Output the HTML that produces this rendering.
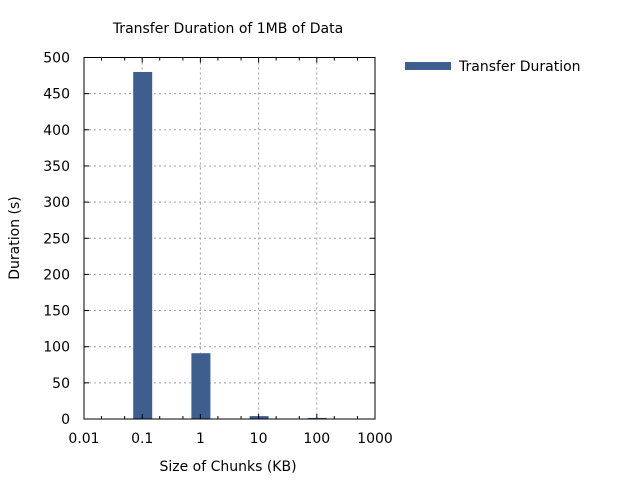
<!DOCTYPE html>
<html><head><meta charset="utf-8"><style>
body{margin:0;background:#fff}
svg{display:block;font-family:"DejaVu Sans","Liberation Sans",sans-serif}
</style></head><body>
<svg id="c" width="640" height="480"></svg>
<script>
const categories=[0.1,1,10,100];
const durations=[480,91,4,1.5];
const xTicks=[0.01,0.1,1,10,100,1000];
const xTickLabels=["0.01","0.1","1","10","100","1000"];
const yTicks=[0,50,100,150,200,250,300,350,400,450,500];
const NS="http://www.w3.org/2000/svg";
const svg=document.getElementById('c');
const L=84,R=375,T=57.5,B=419;
function xs(v){return L+(Math.log10(v)+2)/5*(R-L);}
function ys(v){return B-v/500*(B-T);}
function el(t,a,p){const e=document.createElementNS(NS,t);for(const k in a)e.setAttribute(k,a[k]);(p||svg).appendChild(e);return e;}
function txt(s,a){const e=el('text',a);e.textContent=s;return e;}
const grid=el('g',{});


yTicks.forEach(v=>{if(v>0&&v<500)el('line',{x1:L,x2:R,y1:ys(v),y2:ys(v),stroke:'#a0a0a0','stroke-dasharray':'2,3'},grid);});
xTicks.forEach(v=>{if(v>0.01&&v<1000)el('line',{x1:xs(v),x2:xs(v),y1:T,y2:B,stroke:'#a0a0a0','stroke-dasharray':'2,3'},grid);});
categories.forEach((c,i)=>{
  const r=el('rect',{x:xs(c)-9,y:ys(durations[i]),width:19,height:B-ys(durations[i]),fill:'#3e5e8e'});
  
  
});
el('rect',{x:L,y:T,width:R-L,height:B-T,fill:'none',stroke:'#000','stroke-width':1});
yTicks.forEach(v=>{
  el('line',{x1:L,x2:L+5,y1:ys(v),y2:ys(v),stroke:'#000'});
  el('line',{x1:R,x2:R-5,y1:ys(v),y2:ys(v),stroke:'#000'});
  const t=txt(String(v),{x:L-14,y:ys(v)+5,'text-anchor':'end','font-size':14,fill:'#000'});
  
  
});
xTicks.forEach((v,i)=>{
  el('line',{x1:xs(v),x2:xs(v),y1:B,y2:B-5,stroke:'#000'});
  el('line',{x1:xs(v),x2:xs(v),y1:T,y2:T+5,stroke:'#000'});
  if(i<xTicks.length-1){[2,5].forEach(m=>{const x=xs(v*m);
    el('line',{x1:x,x2:x,y1:B,y2:B-3,stroke:'#000'});el('line',{x1:x,x2:x,y1:T,y2:T+3,stroke:'#000'});});}
  const t=txt(xTickLabels[i],{x:xs(v),y:B+24,'text-anchor':'middle','font-size':14,fill:'#000'});
  
  
});
let t=txt('Transfer Duration of 1MB of Data',{x:228,y:33,'text-anchor':'middle','font-size':14});


t=txt('Size of Chunks (KB)',{x:228,y:471,'text-anchor':'middle','font-size':14});


t=txt('Duration (s)',{x:0,y:0,'text-anchor':'middle','font-size':14,transform:'translate(19,238) rotate(-90)'});


const lg=el('g',{});


el('rect',{x:405,y:62,width:46,height:8,fill:'#3e5e8e'},lg);
const lt=el('text',{x:459,y:71,'font-size':14},lg);lt.textContent='Transfer Duration';
</script>
</body></html>
